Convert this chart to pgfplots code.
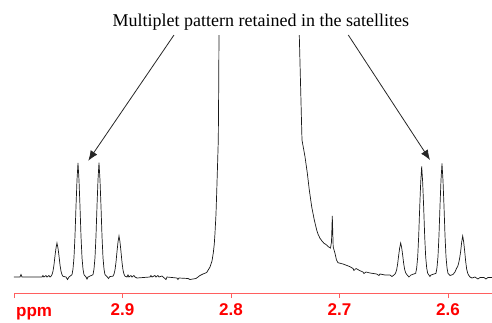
\documentclass[border=0pt]{standalone}
\usepackage{fontspec}
\setmainfont{Liberation Serif}
\newfontfamily\sfb{Liberation Sans}
\usepackage{pgfplots}
\pgfplotsset{compat=1.18}
\usetikzlibrary{arrows.meta}
\definecolor{axred}{RGB}{255,95,95}
\definecolor{labred}{RGB}{255,0,0}
\begin{document}
\begin{tikzpicture}
\begin{axis}[
  scale only axis, width=478pt, height=258pt,
  x dir=reverse, xmin=2.55944, xmax=3.0, ymin=29, ymax=287,
  axis x line=bottom, axis y line=none,
  x axis line style={-, draw=axred, line width=0.8pt},
  every tick/.style={draw=axred, line width=0.8pt},
  tick align=outside, major tick length=5pt,
  xtick={2.6,2.7,2.8,2.9,3.0},
  xticklabels={2.6,2.7,2.8,2.9,{}},
  xticklabel style={font=\sfb\bfseries\fontsize{17}{17}\selectfont, text=labred, inner sep=5pt},
  clip mode=individual,
]
\addplot[black!90, line width=0.7pt] coordinates {
(3.00000,45) (2.99447,45) (2.99355,47.5) (2.99262,45) (2.97419,45) (2.97327,46.5) (2.97235,45)
(2.97050,46.5) (2.96958,45) (2.96774,46.5) (2.96682,45) (2.96590,45.7)
(2.96497,47.4) (2.96405,50.8) (2.96313,57.2) (2.96221,66.1) (2.96129,73.9) (2.96037,79)
(2.95944,73.9) (2.95852,66.1) (2.95760,57.2) (2.95668,50.8) (2.95576,47.4) (2.95484,45.7)
(2.95207,45) (2.95069,42.5) (2.94931,45)
(2.94654,47.3) (2.94562,53.0) (2.94470,64.4) (2.94378,86.0) (2.94285,115.7) (2.94193,141.9) (2.94101,159)
(2.94009,141.9) (2.93917,115.7) (2.93825,86.0) (2.93732,64.4) (2.93640,53.0) (2.93548,47.3)
(2.93364,45) (2.93272,43) (2.93179,45)
(2.92719,47.3) (2.92626,53.0) (2.92534,64.4) (2.92442,86.0) (2.92350,115.7) (2.92258,141.9) (2.92166,159.3)
(2.92073,141.9) (2.91981,115.7) (2.91889,86.0) (2.91797,64.4) (2.91705,53.0) (2.91613,47.3)
(2.91428,45.5) (2.91290,43.5) (2.91152,45.5)
(2.90875,45.8) (2.90783,47.9) (2.90691,52.0) (2.90599,59.8) (2.90507,70.4) (2.90414,79.9) (2.90322,86)
(2.90230,79.9) (2.90138,70.4) (2.90046,59.8) (2.89954,52.0) (2.89861,47.9) (2.89769,45.8)
(2.89585,45) (2.89493,47) (2.89401,45) (2.89216,46.5) (2.89124,45) (2.88940,46.5) (2.88848,45) (2.88663,44)
(2.87465,45) (2.87373,46.5) (2.87281,45) (2.87004,46.5) (2.86912,45) (2.86728,46.5) (2.86636,45) (2.86359,46)
(2.85991,42.5) (2.85898,45) (2.84977,44) (2.84885,42.5) (2.84792,44)
(2.83963,43.5) (2.83779,42.5) (2.83502,43) (2.83226,43.5) (2.83041,45) (2.82857,46.5)
(2.82580,48) (2.82239,49.5) (2.81935,55) (2.81751,61) (2.81631,69) (2.81539,78) (2.81474,89)
(2.81382,108) (2.81318,129) (2.81244,155) (2.81170,182) (2.81133,235) (2.81106,287) (2.81078,400)
(2.73732,400) (2.73705,287) (2.73594,240) (2.73456,182) (2.73179,165.3) (2.72967,149) (2.72783,132)
(2.72562,115.3) (2.72322,102) (2.72101,92) (2.71981,88) (2.71797,83.7) (2.71612,81) (2.71428,78.7)
(2.71244,77.5) (2.71032,75.3) (2.70829,74) (2.70737,80) (2.70663,106) (2.70580,75) (2.70414,68.7)
(2.70276,62) (2.70138,59.3) (2.69677,58) (2.69308,56.5) (2.69032,55.3) (2.68755,53.5) (2.68663,51.5)
(2.68479,53.5) (2.68110,51.3) (2.67834,50) (2.67742,48.5) (2.67557,50) (2.67189,49) (2.66571,48)
(2.66359,46.5) (2.66267,48) (2.65806,47) (2.65345,47) (2.65161,45.5)
(2.64912,47.6) (2.64820,49.2) (2.64728,52.4) (2.64636,58.5) (2.64543,66.8) (2.64451,74.2) (2.64359,79)
(2.64267,74.2) (2.64175,66.8) (2.64083,58.5) (2.63990,52.4) (2.63898,49.2) (2.63806,47.6)
(2.63594,45) (2.63410,47)
(2.62977,48.7) (2.62884,54.1) (2.62792,65.0) (2.62700,85.7) (2.62608,114.1) (2.62516,139.2) (2.62424,155.5)
(2.62331,139.2) (2.62239,114.1) (2.62147,85.7) (2.62055,65.0) (2.61963,54.1) (2.61871,48.7)
(2.61659,45.5) (2.61567,47)
(2.61106,48.7) (2.61014,54.3) (2.60921,65.5) (2.60829,86.8) (2.60737,115.9) (2.60645,141.7) (2.60553,158.5)
(2.60461,141.7) (2.60368,115.9) (2.60276,86.8) (2.60184,65.5) (2.60092,54.3) (2.60000,48.7)
(2.59815,46.5) (2.59539,47.5) (2.59355,50) (2.59198,54)
(2.59106,55.5) (2.59014,59) (2.58921,64) (2.58829,70.8) (2.58737,80) (2.58645,86)
(2.58553,80) (2.58461,70.8) (2.58368,60.4) (2.58276,52.8) (2.58184,48.8) (2.58092,46.8)
(2.57972,45) (2.57788,44) (2.57511,45) (2.57235,43) (2.57050,44.5) (2.56682,44.5) (2.56498,43) (2.56313,44.5) (2.55944,44.5)
};
\node[anchor=base west, font=\sfb\bfseries\fontsize{17}{17}\selectfont, text=labred, inner sep=0pt] at (axis cs:2.99815,5.3) {ppm};
\node[anchor=base, font=\fontsize{18}{18}\selectfont, inner sep=0pt] at (axis cs:2.77253,296) {Multiplet pattern retained in the satellites};
\draw[line width=0.8pt, black!85, -{Latex[length=10pt,width=8pt]}] (axis cs:2.85253,287) -- (axis cs:2.93152,161.3);
\draw[line width=0.8pt, black!85, -{Latex[length=10pt,width=8pt]}] (axis cs:2.69189,287) -- (axis cs:2.61659,162);
\coordinate (BL) at (axis cs:3.0129,0);
\coordinate (TR) at (axis cs:2.55944,322);
\end{axis}
\pgfresetboundingbox
\path (BL) rectangle (TR);
\end{tikzpicture}
\end{document}
